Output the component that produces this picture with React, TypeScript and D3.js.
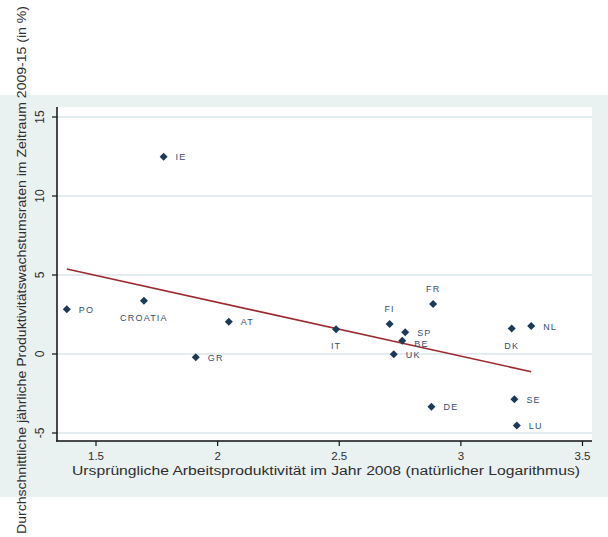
import React from "react";
import * as d3 from "d3";

const countries = ["IE","PO","CROATIA","AT","GR","IT","FI","SP","BE","UK","FR","DK","NL","DE","SE","LU"];
const productivity2008 = [1.778,1.380,1.697,2.046,1.910,2.487,2.707,2.771,2.759,2.724,2.886,3.209,3.289,2.879,3.220,3.230];
const growth = [12.49,2.83,3.37,2.04,-0.21,1.56,1.90,1.37,0.84,-0.02,3.16,1.61,1.77,-3.34,-2.87,-4.53];
// Stata-like label clock positions
const labelPos = [3,3,6,3,3,6,12,3,4,3,12,6,3,3,3,3];
const fitX = [1.380, 3.289];
const fitY = [5.38, -1.12];
const xTicks = [1.5, 2, 2.5, 3, 3.5];
const yTicks = [-5, 0, 5, 10, 15];
const xTitle = "Ursprüngliche Arbeitsproduktivität im Jahr 2008 (natürlicher Logarithmus)";
const yTitle = "Durchschnittliche jährliche Produktivitätswachstumsraten im Zeitraum 2009-15 (in %)";

export default function App() {
  const W = 608, H = 537;
  const x = d3.scaleLinear().domain([1.5, 3.5]).range([96, 582.5]);
  const y = d3.scaleLinear().domain([-5, 15]).range([433, 117]);
  const left = 57, right = 592, top = 107, bottom = 441;
  const marker = d3.symbol().type(d3.symbolSquare).size(32)() as string;
  const line = d3.line<number>().x((d, i) => x(fitX[i])).y((d) => y(d));
  const font = "Arial, 'Liberation Sans', sans-serif";
  const textCol = "#2e2e2e";
  const navy = "#1b3a5a";

  return (
    <svg width={W} height={H} style={{ position: "absolute", left: 0, top: 0, background: "#fff" }}>
      <rect x={0} y={95} width={W} height={402} fill="#eaf1f1" />
      <rect x={left} y={top} width={right - left} height={bottom - top} fill="#ffffff" />
      {yTicks.map((t) => (
        <line key={"g" + t} x1={left} x2={right} y1={y(t)} y2={y(t)} stroke="#e3ecee" strokeWidth={2} />
      ))}
      <path d={line(fitY) || ""} fill="none" stroke="#9b2a2e" strokeWidth={1.6} />
      {countries.map((c, i) => {
        const px = x(productivity2008[i]);
        const py = y(growth[i]);
        const p = labelPos[i];
        let lx = px + 12, ly = py + 3.5, anchor: any = "start";
        if (p === 4) { ly = py + 6.5; }
        if (p === 6) { lx = px; ly = py + 20; anchor = "middle"; }
        if (p === 12) { lx = px; ly = py - 12; anchor = "middle"; }
        return (
          <g key={c}>
            <path d={marker} transform={`translate(${px},${py}) rotate(45)`} fill={navy} />
            <text x={lx} y={ly} textAnchor={anchor} fontFamily={font} fontSize={9} letterSpacing={1.2} fill="#34506e">{c}</text>
          </g>
        );
      })}
      <line x1={left} x2={left} y1={top} y2={bottom + 0.75} stroke="#111" strokeWidth={1.5} />
      <line x1={left - 0.75} x2={right} y1={bottom} y2={bottom} stroke="#111" strokeWidth={1.5} />
      {yTicks.map((t) => (
        <g key={"y" + t}>
          <line x1={left - 5} x2={left} y1={y(t)} y2={y(t)} stroke="#111" strokeWidth={1.2} />
          <text transform={`translate(44,${y(t)}) rotate(-90)`} textAnchor="middle" fontFamily={font} fontSize={12} fill={textCol}>{t}</text>
        </g>
      ))}
      {xTicks.map((t) => (
        <g key={"x" + t}>
          <line x1={x(t)} x2={x(t)} y1={bottom} y2={bottom + 5} stroke="#111" strokeWidth={1.2} />
          <text x={x(t)} y={459.5} textAnchor="middle" fontFamily={font} fontSize={11.5} fill={textCol}>{t}</text>
        </g>
      ))}
      <text x={326} y={475} textAnchor="middle" fontFamily={font} fontSize={12} fill={textCol} textLength={508} lengthAdjust="spacingAndGlyphs">{xTitle}</text>
      <text transform={`translate(26,270) rotate(-90)`} textAnchor="middle" fontFamily={font} fontSize={12} fill={textCol} textLength={528} lengthAdjust="spacingAndGlyphs">{yTitle}</text>
    </svg>
  );
}
